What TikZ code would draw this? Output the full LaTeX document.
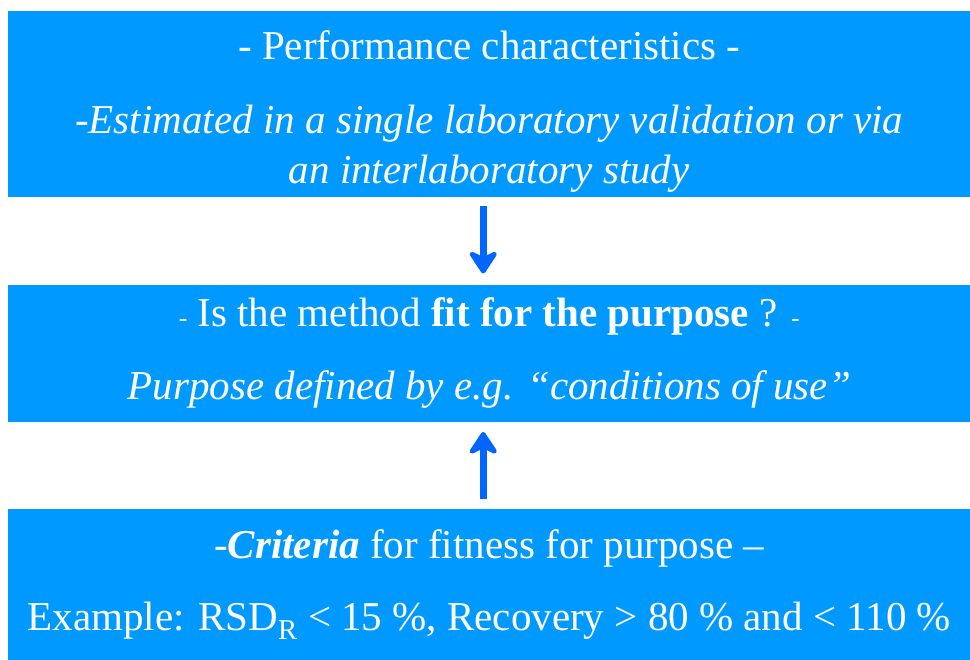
\documentclass[tikz,border=0pt]{standalone}
\usepackage{fontspec}
\setmainfont{Liberation Serif}
\usetikzlibrary{arrows.meta,positioning}
\definecolor{bluebox}{RGB}{0,153,255}
\definecolor{bluearrow}{RGB}{0,102,255}
\tikzset{
      mybox/.style={
        fill=bluebox,
        align=center,
        text=white,
        font=\fontsize{35}{42}\selectfont,
        minimum width=28.86cm,
        minimum height=#1,
        inner sep=0pt,
        anchor=north west
      },
      myarrow/.style={
        draw=bluearrow,
        line width=6pt,
        -{Stealth[length=0.8cm,width=1.05cm,inset=0.25cm,round]}
      },
    }
\newcommand{\smalldash}{{\fontsize{22}{22}\selectfont -}}

\begin{document}
\begin{tikzpicture}[node distance=2.61cm]
          \useasboundingbox (0,0) rectangle (29.1,-19.77);
          \node[mybox=5.58cm] at (0.24,-0.33)
            (perf)
            {\rule{0pt}{1.3cm}- Performance characteristics -\\[0.75cm]
             \textit{-Estimated in a single laboratory validation or via}\\
             \textit{an interlaboratory study}};
          \node[mybox=4.11cm,below=of perf]
            (fit)
            {\smalldash{} Is the method \textbf{fit for the purpose} ? \smalldash\\[0.72cm]
             \textit{Purpose defined by e.g. “conditions of use”}};
          \node[mybox=4.53cm,below=of fit]
            (crit)
            {\textit{-}\textbf{\textit{Criteria}} for fitness for purpose –\\[0.69cm]
             Example: RSD\textsubscript{R} < 15 \%, Recovery > 80 \% and < 110 \%};

          \draw[myarrow] ([xshift=-0.18cm,yshift=-0.27cm]perf.south) -- ([xshift=-0.18cm,yshift=0.33cm]fit.north);
          \draw[myarrow] ([xshift=-0.18cm,yshift=0.3cm]crit.north) -- ([xshift=-0.18cm,yshift=-0.3cm]fit.south);
        \end{tikzpicture}
\end{document}
